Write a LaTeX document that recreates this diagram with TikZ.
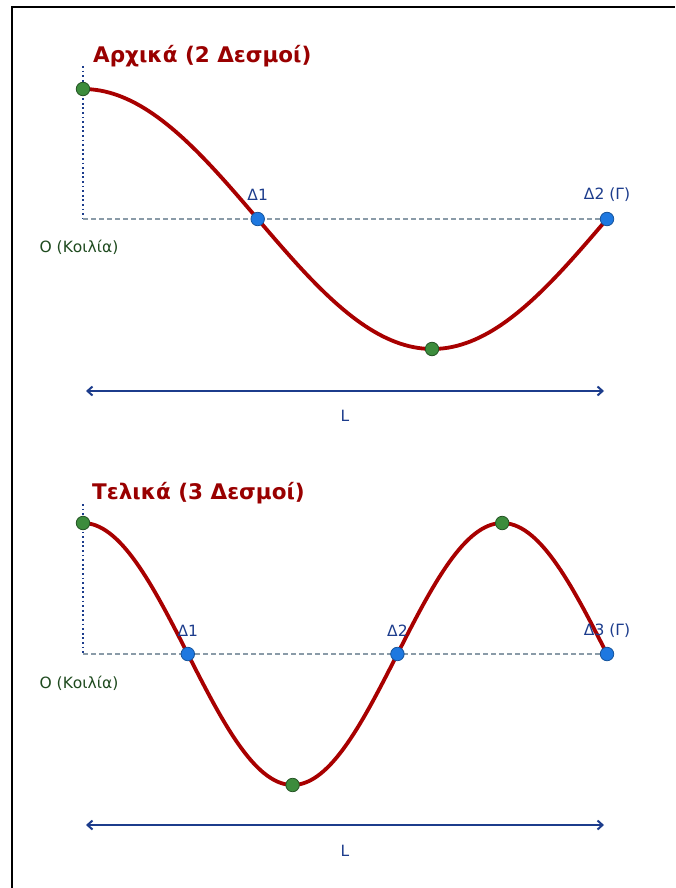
\documentclass[tikz,border=0pt]{standalone}
\usepackage{fontspec}
\setmainfont{DejaVu Sans}
\usepackage{tikz}
\usetikzlibrary{arrows.meta, calc}

\definecolor{wavered}{HTML}{A80000}
\definecolor{titlered}{HTML}{990000}
\definecolor{nodeblue}{HTML}{1E78E0}
\definecolor{antigreen}{HTML}{3C8C3C}
\definecolor{labelblue}{HTML}{1C3C8C}
\definecolor{labelgreen}{HTML}{1E4A1E}
\definecolor{axisgray}{HTML}{8A9BA8}

\begin{document}
\begin{tikzpicture}[x=1pt, y=-1pt,
    wave/.style={line width=3.8pt, wavered},
    axisline/.style={axisgray, line width=1.2pt, dash pattern=on 5pt off 3pt},
    refline/.style={labelblue, line width=1.8pt, dash pattern=on 1.8pt off 2.8pt},
    nodedot/.style={circle, fill=nodeblue, draw=nodeblue!70!black, line width=0.8pt, inner sep=0pt, minimum size=13.5pt},
    antidot/.style={circle, fill=antigreen, draw=antigreen!60!black, line width=0.8pt, inner sep=0pt, minimum size=13.5pt},
    dimarrow/.style={{Straight Barb[length=5pt,width=9pt]}-{Straight Barb[length=5pt,width=9pt]}, labelblue, line width=2pt},
    title/.style={anchor=base west, font=\fontsize{21.5}{24}\selectfont\bfseries, text=titlered, inner sep=0pt},
    dlabel/.style={font=\fontsize{15.5}{17}\selectfont, text=labelblue, inner sep=0pt},
    olabel/.style={font=\fontsize{15.5}{17}\selectfont, text=labelgreen, inner sep=0pt}]
\useasboundingbox (0,0) rectangle (675,888);

% Frame
\draw[line width=1.6pt] (12,888) -- (12,7) -- (675,7);

% ---- Initial state: 2 nodes ----
\node[title] (titleA) at (93,63) {Αρχικά (2 Δεσμοί)};
\coordinate (oA) at (83,219);
\coordinate (topA) at (83,66);
\coordinate (endA) at (607,219);
\draw[refline] (topA) -- (oA);
\draw[axisline] (oA) -- (endA);
\draw[wave] plot[domain=83:607, samples=120] (\x, {219-130*cos((\x-83)/698.667*360)});
\node[antidot] (a0) at (83,89) {};
\node[antidot] (a1) at (432,349) {};
\node[nodedot] (dA1) at (257.7,219) {};
\node[nodedot] (dA2) at (607,219) {};
\node[dlabel] at (257.7,195) {Δ1};
\node[dlabel] at (607,195) {Δ2 (Γ)};
\node[olabel] at (79,247) {Ο (Κοιλία)};
\coordinate (lA) at (86,391);
\coordinate (rA) at (604,391);
\draw[dimarrow] (lA) -- (rA);
\node[dlabel] (LA) at (345,416) {L};

% ---- Final state: 3 nodes ----
\node[title] (titleB) at (92,499) {Τελικά (3 Δεσμοί)};
\coordinate (oB) at (83,654);
\coordinate (topB) at (83,504);
\coordinate (endB) at (607,654);
\draw[refline] (topB) -- (oB);
\draw[axisline] (oB) -- (endB);
\draw[wave] plot[domain=83:607, samples=160] (\x, {654-131*cos((\x-83)/419.2*360)});
\node[antidot] (b0) at (83,523) {};
\node[antidot] (b1) at (292.6,785) {};
\node[antidot] (b2) at (502.2,523) {};
\node[nodedot] (dB1) at (187.8,654) {};
\node[nodedot] (dB2) at (397.4,654) {};
\node[nodedot] (dB3) at (607,654) {};
\node[dlabel] at (187.8,631) {Δ1};
\node[dlabel] at (397.4,631) {Δ2};
\node[dlabel] at (607,631) {Δ3 (Γ)};
\node[olabel] at (79,683) {Ο (Κοιλία)};
\coordinate (lB) at (86,825);
\coordinate (rB) at (604,825);
\draw[dimarrow] (lB) -- (rB);
\node[dlabel] (LB) at (345,851) {L};
\end{tikzpicture}
\end{document}
